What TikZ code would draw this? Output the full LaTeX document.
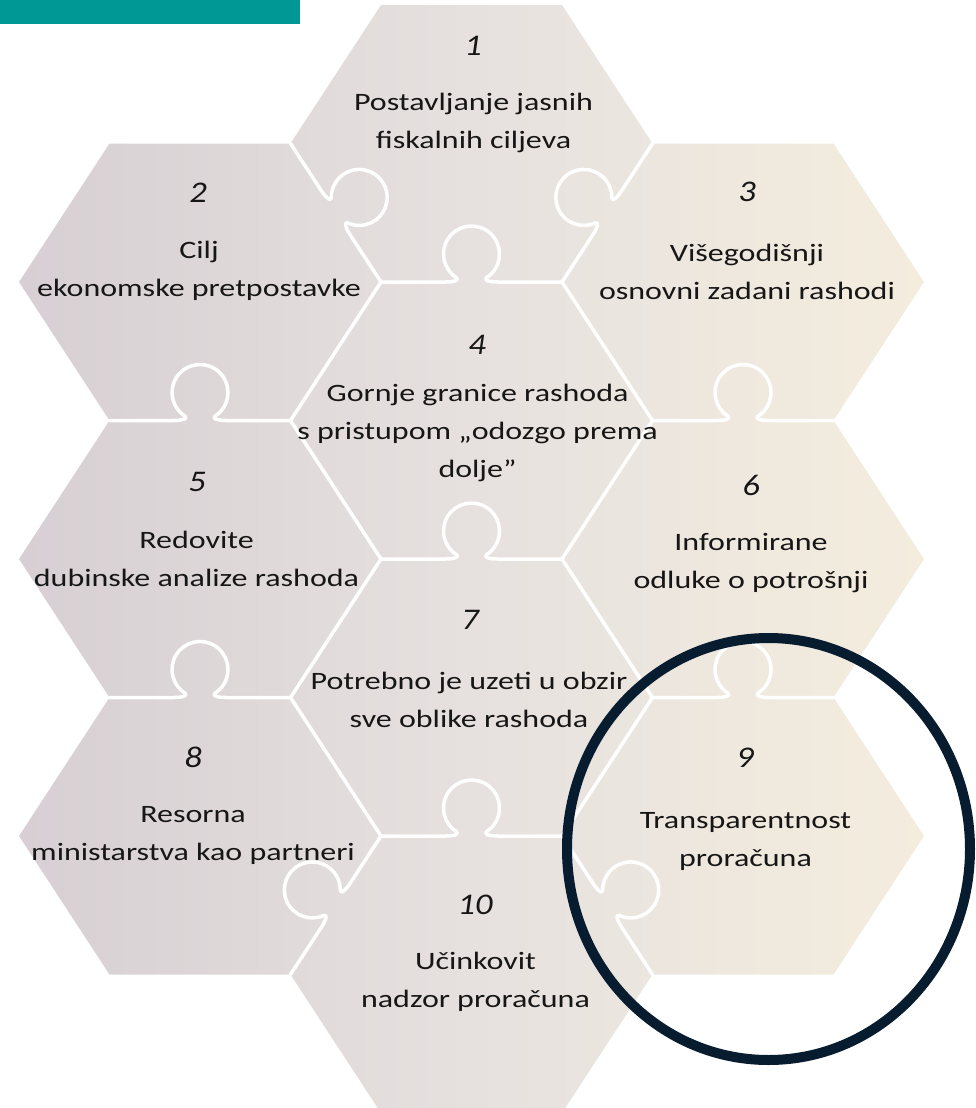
\documentclass[tikz,border=0pt]{standalone}
\usepackage{fontspec}
\setmainfont{Carlito}
\definecolor{hexL}{RGB}{215,207,211}
\definecolor{hexM}{RGB}{230,225,223}
\definecolor{hexR}{RGB}{244,237,222}
\definecolor{txt}{RGB}{22,22,22}
\definecolor{ring}{RGB}{8,28,48}
\definecolor{bar}{RGB}{0,152,148}
\begin{document}
\begin{tikzpicture}[x=1pt,y=1pt,
  hexcell/.style={insert path={++(-181,0) -- ++(90.5,138.5) -- ++(181,0) -- ++(90.5,-138.5) -- ++(-90.5,-138.5) -- ++(-181,0) -- cycle}},
  sepline/.style={white, line width=3.5pt, line join=round, line cap=round},
  knobpath/.style={insert path={.. controls (-18,0) and (-12,1.5) .. (-14.84,4.25) arc[start angle=238,end angle=-58,radius=28pt] .. controls (12,1.5) and (18,0) .. (26,0)}},
  num/.style={font=\itshape\fontsize{30}{34}\selectfont, text=txt, xscale=1.15, inner sep=0pt},
  lbl/.style={font=\fontsize{25}{38}\selectfont, align=center, text=txt, xscale=1.28, inner sep=0pt}]
\useasboundingbox (0,0) rectangle (975,-1108);
% teal title bar
\fill[bar] (0,0) rectangle (300,-24);
% hexagon centres
\coordinate (h1) at (471.5,-143.5);
\coordinate (h2) at (200,-282);
\coordinate (h3) at (743,-282);
\coordinate (h4) at (471.5,-420.5);
\coordinate (h5) at (200,-559);
\coordinate (h6) at (743,-559);
\coordinate (h7) at (471.5,-697.5);
\coordinate (h8) at (200,-836);
\coordinate (h9) at (743,-836);
\coordinate (h10) at (471.5,-974.5);
% puzzle body
\shade[left color=hexL, right color=hexR, middle color=hexM]
  (h1) [hexcell] (h2) [hexcell] (h3) [hexcell] (h4) [hexcell] (h5) [hexcell]
  (h6) [hexcell] (h7) [hexcell] (h8) [hexcell] (h9) [hexcell] (h10) [hexcell];
% straight separators
\draw[sepline] (381,-282) -- (290.5,-420.5) -- (381,-559) -- (290.5,-697.5) -- (381,-836);
\draw[sepline] (562,-282) -- (652.5,-420.5) -- (562,-559) -- (652.5,-697.5) -- (562,-836);
% horizontal separators with knobs
\foreach \mx/\my in {471.5/282, 200/420.5, 743/420.5, 471.5/559, 200/697.5, 743/697.5, 471.5/836}
  \draw[sepline, shift={(\mx,-\my)}] (-90.5,0) -- (-26,0) [knobpath] -- (90.5,0);
% slanted separators with knobs
\foreach \mx/\my/\ang in {335.75/212.75/-56.83, 607.25/212.75/56.83, 335.75/905.25/56.83, 607.25/905.25/-56.83}
  \draw[sepline, shift={(\mx,-\my)}, rotate=\ang] (-82.7,0) -- (-26,0) [knobpath] -- (82.7,0);
% texts
\node[num] (n1) at (473,-46) {1};
\node[lbl] (t1) at (473.5,-123) {Postavljanje jasnih\\fiskalnih ciljeva};
\node[num] (n2) at (198,-193) {2};
\node[lbl] (t2) at (199,-271) {Cilj\\ekonomske pretpostavke};
\node[num] (n3) at (747,-192) {3};
\node[lbl] (t3) at (747,-272) {Višegodišnji\\osnovni zadani rashodi};
\node[num] (n4) at (477,-345) {4};
\node[lbl] (t4) at (477.5,-433) {Gornje granice rashoda\\s pristupom „odozgo prema\\dolje”};
\node[num] (n5) at (197,-482) {5};
\node[lbl] (t5) at (196.5,-559) {Redovite\\dubinske analize rashoda};
\node[num] (n6) at (751,-485) {6};
\node[lbl] (t6) at (751,-563) {Informirane\\odluke o potrošnji};
\node[num] (n7) at (470,-620) {7};
\node[lbl] (t7) at (469,-700) {Potrebno je uzeti u obzir\\sve oblike rashoda};
\node[num] (n8) at (193,-757) {8};
\node[lbl] (t8) at (193,-835) {Resorna\\ministarstva kao partneri};
\node[num] (n9) at (745,-758) {9};
\node[lbl] (t9) at (745.5,-841) {Transparentnost\\proračuna};
\node[num] (n10) at (475,-905) {10};
\node[lbl] (t10) at (475.5,-981.5) {Učinkovit\\nadzor proračuna};
% highlight ring
\draw[ring, line width=10pt] (768.5,-849) ellipse [x radius=201.5pt, y radius=211pt];
\end{tikzpicture}
\end{document}
